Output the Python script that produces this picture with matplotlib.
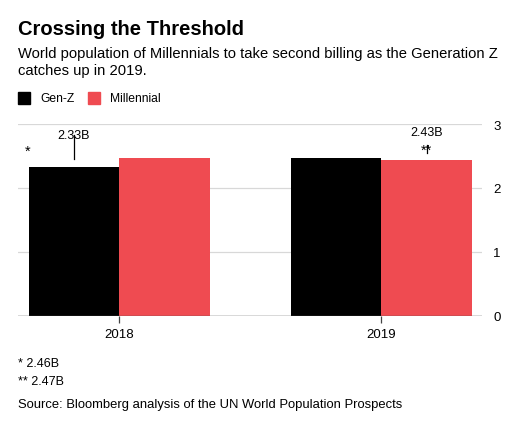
import matplotlib
matplotlib.use("Agg")
import matplotlib.pyplot as plt
import numpy as np

years = ["2018", "2019"]
genz = [2.33, 2.47]
millennial = [2.46, 2.43]
series_names = ["Gen-Z", "Millennial"]
colors = ["#000000", "#ef4b51"]
yticks = [0, 1, 2, 3]

plt.rcParams['font.family'] = ['Liberation Sans', 'DejaVu Sans']

W, H = 508, 427
fig = plt.figure(figsize=(W / 100, H / 100), dpi=100)
ax = fig.add_axes([18 / W, 1 - 316.5 / H, (482 - 18) / W, (316.5 - 125) / H])

x = np.arange(len(years))
bw = 0.345
ax.bar(x - bw / 2, genz, width=bw, color=colors[0], zorder=3)
ax.bar(x + bw / 2, millennial, width=bw, color=colors[1], zorder=3)

ax.set_xlim(-0.386, 1.384)
ax.set_ylim(0, 3)
ax.set_yticks(yticks)
ax.set_yticklabels([str(t) for t in yticks], fontsize=9.5)
ax.yaxis.tick_right()
ax.tick_params(axis='y', length=0, pad=8)
ax.grid(axis='y', color='#d8d8d8', linewidth=0.9, zorder=0)
ax.set_xticks(x)
ax.set_xticklabels(years, fontsize=9.5)
ax.tick_params(axis='x', length=5, width=0.9, color='#444444', pad=4)
for s in ax.spines.values():
    s.set_visible(False)
ax.axhline(0, color='#555555', linewidth=1.0, zorder=4)

# annotations
ax.plot([x[0] - bw / 2, x[0] - bw / 2], [genz[0] + 0.12, genz[0] + 0.5], color='black', lw=0.9, zorder=5)
ax.text(x[0] - bw / 2, genz[0] + 0.5, f"{genz[0]:.2f}B", ha='center', va='center', fontsize=9)
ax.text(-0.35, 2.58, "*", ha='center', va='center', fontsize=10.5)
ax.plot([x[1] + bw / 2, x[1] + bw / 2], [millennial[1] + 0.12, millennial[1] + 0.24], color='black', lw=0.9, zorder=5)
ax.text(x[1] + bw / 2, 2.88, f"{millennial[1]:.2f}B", ha='center', va='center', fontsize=9)
ax.text(x[1] + bw / 2, 2.59, "**", ha='center', va='center', fontsize=10.5)

# title, subtitle
fig.text(18 / W, 1 - 35 / H, "Crossing the Threshold", fontsize=14.5, fontweight='bold', ha='left', va='baseline')
fig.text(18 / W, 1 - 58 / H, "World population of Millennials to take second billing as the Generation Z",
         fontsize=10.6, ha='left', va='baseline')
fig.text(18 / W, 1 - 75 / H, "catches up in 2019.", fontsize=10.6, ha='left', va='baseline')

# legend
lx = [18, 88]
for i, name in enumerate(series_names):
    fig.patches.append(plt.Rectangle((lx[i] / W, 1 - 105 / H), 12 / W, 12 / H,
                                     transform=fig.transFigure, color=colors[i]))
    fig.text((lx[i] + 22) / W, 1 - 99 / H, name, fontsize=8.7, ha='left', va='center')

# footnotes
fig.text(18 / W, 1 - 367 / H, f"* {millennial[0]:.2f}B", fontsize=9, ha='left', va='baseline')
fig.text(18 / W, 1 - 385 / H, f"** {genz[1]:.2f}B", fontsize=9, ha='left', va='baseline')
fig.text(18 / W, 1 - 408 / H, "Source: Bloomberg analysis of the UN World Population Prospects",
         fontsize=9.4, ha='left', va='baseline')

fig.savefig("out.png", dpi=100)
